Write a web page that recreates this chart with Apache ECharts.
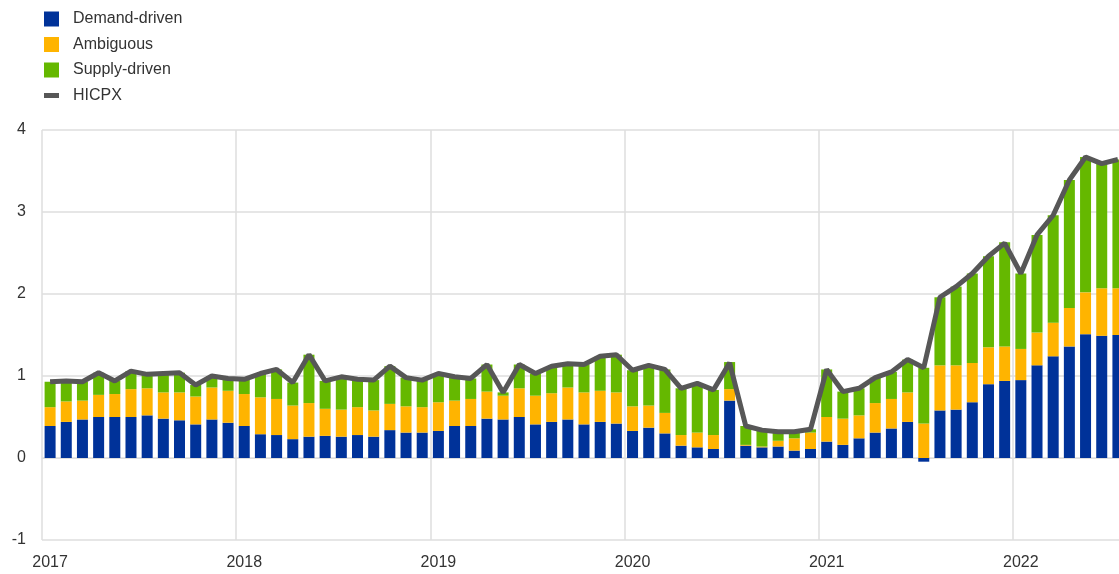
<!DOCTYPE html>
<html>
<head>
<meta charset="utf-8">
<script src="https://cdn.jsdelivr.net/npm/echarts@6/dist/echarts.min.js"></script>
<style>
  html, body { margin: 0; padding: 0; background: #fff; }
  #chart { width: 1119px; height: 574px; }
</style>
</head>
<body>
<div id="chart"></div>
<script>
// months Jan 2017 .. Jul 2022
const years = ["2017", "2018", "2019", "2020", "2021", "2022"];
const months = [];
years.forEach(function (y) {
  for (let m = 1; m <= 12; m++) {
    if (y === "2022" && m > 7) break;
    months.push(y + "-" + (m < 10 ? "0" + m : m));
  }
});

// demand-driven contribution
const demand = [
  0.39, 0.44, 0.47, 0.50, 0.50, 0.50, 0.52, 0.48, 0.46, 0.41, 0.47, 0.43,
  0.39, 0.29, 0.28, 0.23, 0.26, 0.27, 0.26, 0.28, 0.26, 0.34, 0.31, 0.31,
  0.33, 0.39, 0.39, 0.48, 0.47, 0.50, 0.41, 0.44, 0.47, 0.41, 0.44, 0.42,
  0.33, 0.37, 0.30, 0.15, 0.13, 0.11, 0.70, 0.15, 0.13, 0.14, 0.09, 0.11,
  0.20, 0.16, 0.24, 0.31, 0.36, 0.44, -0.045, 0.58, 0.59, 0.68, 0.90, 0.94,
  0.95, 1.13, 1.24, 1.36, 1.51, 1.49, 1.50
];
// ambiguous contribution
const ambiguous = [
  0.23, 0.25, 0.23, 0.27, 0.28, 0.34, 0.33, 0.32, 0.34, 0.34, 0.39, 0.39,
  0.39, 0.45, 0.44, 0.41, 0.41, 0.33, 0.33, 0.34, 0.32, 0.32, 0.32, 0.31,
  0.35, 0.31, 0.33, 0.33, 0.29, 0.35, 0.35, 0.35, 0.39, 0.39, 0.38, 0.38,
  0.30, 0.27, 0.25, 0.13, 0.18, 0.17, 0.14, 0.01, 0.01, 0.07, 0.15, 0.20,
  0.30, 0.32, 0.28, 0.36, 0.36, 0.36, 0.42, 0.55, 0.54, 0.48, 0.45, 0.42,
  0.38, 0.40, 0.41, 0.47, 0.51, 0.58, 0.57
];
// supply-driven contribution
const supply = [
  0.31, 0.25, 0.23, 0.27, 0.16, 0.22, 0.17, 0.23, 0.24, 0.14, 0.14, 0.15,
  0.18, 0.29, 0.36, 0.28, 0.59, 0.34, 0.40, 0.34, 0.37, 0.46, 0.35, 0.33,
  0.34, 0.29, 0.25, 0.33, 0.04, 0.29, 0.27, 0.33, 0.29, 0.34, 0.42, 0.46,
  0.44, 0.49, 0.53, 0.57, 0.60, 0.55, 0.33, 0.23, 0.19, 0.11, 0.08, 0.04,
  0.58, 0.33, 0.33, 0.31, 0.33, 0.40, 0.68, 0.83, 0.96, 1.09, 1.11, 1.27,
  0.92, 1.19, 1.31, 1.56, 1.65, 1.52, 1.57
];
// HICPX headline
const hicpx = [
  0.93, 0.94, 0.93, 1.04, 0.94, 1.06, 1.02, 1.03, 1.04, 0.89, 1.00, 0.97,
  0.96, 1.03, 1.08, 0.92, 1.26, 0.94, 0.99, 0.96, 0.95, 1.12, 0.98, 0.95,
  1.03, 0.99, 0.97, 1.14, 0.80, 1.14, 1.03, 1.12, 1.15, 1.14, 1.24, 1.26,
  1.07, 1.13, 1.08, 0.85, 0.91, 0.83, 1.16, 0.39, 0.34, 0.32, 0.32, 0.35,
  1.08, 0.81, 0.85, 0.98, 1.05, 1.20, 1.10, 1.96, 2.09, 2.25, 2.46, 2.62,
  2.25, 2.72, 2.96, 3.39, 3.67, 3.59, 3.64
];

const txt = "#333333";
const gridCol = "#dedede";
const font = "'Liberation Sans', Arial, sans-serif";

let chart = echarts.init(document.getElementById("chart"));

let barSeries = function (name, data, color) {
  return {
    name: name,
    type: "bar",
    stack: "total",
    data: data,
    barWidth: 11,
    itemStyle: { color: color },
    emphasis: { disabled: true },
  };
};

let option = {
  animation: false,
  textStyle: { fontFamily: font },
  legend: {
    orient: "vertical",
    left: 44,
    top: 11,
    padding: 0,
    itemWidth: 15,
    itemHeight: 15,
    itemGap: 9.5,
    textStyle: { color: txt, fontSize: 16, fontFamily: font, padding: [0, 0, 0, 9] },
    data: [
      { name: "Demand-driven", icon: "rect" },
      { name: "Ambiguous", icon: "rect" },
      { name: "Supply-driven", icon: "rect" },
      { name: "HICPX", icon: "path://M0,0 H15 V5 H0 Z" },
    ],
  },
  grid: {
    left: 42,
    top: 130,
    bottom: 34,
    width: 1084,
    containLabel: false,
    outerBoundsMode: "none",
  },
  xAxis: {
    type: "category",
    data: months,
    boundaryGap: true,
    axisLine: { show: true, lineStyle: { color: gridCol, width: 1 } },
    axisTick: { show: false },
    axisLabel: {
      color: txt,
      fontSize: 16,
      margin: 15,
      interval: function (i) { return i % 12 === 0; },
      formatter: function (v) { return v.slice(0, 4); },
    },
    splitLine: {
      show: true,
      interval: function (i) { return i % 12 === 0; },
      lineStyle: { color: gridCol, width: 1.5 },
    },
  },
  yAxis: {
    type: "value",
    min: -1,
    max: 4,
    interval: 1,
    axisLine: { show: false },
    axisTick: { show: false },
    axisLabel: { color: txt, fontSize: 16, margin: 16 },
    splitLine: { show: true, lineStyle: { color: gridCol, width: 1.5 } },
  },
  series: [
    barSeries("Demand-driven", demand, "#003299"),
    barSeries("Ambiguous", ambiguous, "#ffb400"),
    barSeries("Supply-driven", supply, "#65b800"),
    {
      name: "HICPX",
      type: "line",
      data: hicpx,
      symbol: "none",
      z: 5,
      lineStyle: { color: "#575757", width: 5 },
      itemStyle: { color: "#575757" },
      emphasis: { disabled: true },
    },
  ],
};

chart.setOption(option);
</script>
</body>
</html>
